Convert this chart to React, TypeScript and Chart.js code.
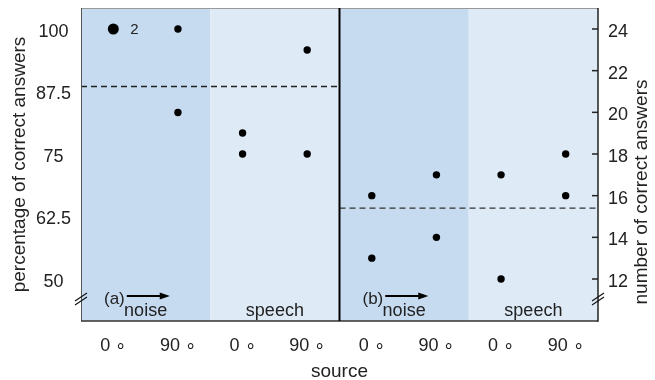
import React, { useEffect, useRef } from 'react';
import { Chart, registerables } from 'chart.js';

Chart.register(...registerables);

// ---- data ----
const sourceLabels = ['0 ∘', '90 ∘', '0 ∘', '90 ∘', '0 ∘', '90 ∘', '0 ∘', '90 ∘'];
const maskerLabels = ['noise', 'speech', 'noise', 'speech'];
const panelLabels = ['(a)', '(b)'];
// panel (a): percentage of correct answers, one list per source column
const panelAPercent = [[100], [100, 83.3], [79.2, 75], [95.8, 75]];
// coincident answers (count 2) in panel (a), noise 0°
const panelADoubleCol = [0];
const panelADoubleVal = [100];
const panelADoubleCount = ['2'];
// panel (b): number of correct answers, one list per source column
const panelBCount = [[16, 13], [17, 14], [17, 12], [18, 16]];
const meanA = 88.5;
const meanB = 15.4;
const percentTicks = [50, 62.5, 75, 87.5, 100];
const countTicks = [12, 14, 16, 18, 20, 22, 24];

const FONT = 'Liberation Sans, Arial, Helvetica, sans-serif';
const TEXT = '#222';
const NOISE_BG = '#c6dbef';
const SPEECH_BG = '#deebf7';

const Y_MIN = 41.6;
const Y_MAX = 104.2;
const COUNT_PER_PERCENT = 0.24;

const zeroPad = (s: any) => {
  s.paddingTop = 0;
  s.paddingBottom = 0;
  s.paddingLeft = 0;
  s.paddingRight = 0;
};

export default function App() {
  const ref = useRef<HTMLCanvasElement | null>(null);

  useEffect(() => {
    document.body.style.margin = '0';
    const canvas = ref.current;
    if (!canvas) return;

    const aPoints: { x: number; y: number }[] = [];
    panelAPercent.forEach((vals, i) => vals.forEach((v) => aPoints.push({ x: i + 0.5, y: v })));
    const aDouble = panelADoubleCol.map((c, i) => ({ x: c + 0.5, y: panelADoubleVal[i] }));
    const bPoints: { x: number; y: number }[] = [];
    panelBCount.forEach((vals, i) => vals.forEach((v) => bPoints.push({ x: 4 + i + 0.5, y: v })));

    const decor = {
      id: 'decor',
      beforeDatasetsDraw(chart: any) {
        const { ctx, chartArea } = chart;
        const x = chart.scales.x;
        ctx.save();
        for (let k = 0; k < 4; k++) {
          const l = x.getPixelForValue(k * 2);
          const r = x.getPixelForValue(k * 2 + 2);
          ctx.fillStyle = k % 2 === 0 ? NOISE_BG : SPEECH_BG;
          ctx.fillRect(l, chartArea.top, r - l, chartArea.bottom - chartArea.top);
        }
        ctx.restore();
      },
      afterDatasetsDraw(chart: any) {
        const { ctx, chartArea } = chart;
        const x = chart.scales.x;
        const y = chart.scales.y;
        const y2 = chart.scales.y2;
        const { left, right, top, bottom } = chartArea;
        ctx.save();

        // count label next to coincident points
        ctx.fillStyle = TEXT;
        ctx.font = `15px ${FONT}`;
        ctx.textAlign = 'left';
        ctx.textBaseline = 'middle';
        aDouble.forEach((p, i) => {
          ctx.fillText(panelADoubleCount[i], x.getPixelForValue(p.x) + 17, y.getPixelForValue(p.y) + 1);
        });

        // masker labels
        ctx.font = `18px ${FONT}`;
        ctx.textAlign = 'center';
        ctx.textBaseline = 'alphabetic';
        maskerLabels.forEach((lab, k) => {
          const c = x.getPixelForValue(k * 2 + 1);
          ctx.fillText(lab, c, bottom - 5);
        });

        // panel labels + arrows
        panelLabels.forEach((lab, k) => {
          const base = x.getPixelForValue(k * 4);
          ctx.font = `17px ${FONT}`;
          ctx.textAlign = 'left';
          ctx.fillStyle = TEXT;
          ctx.fillText(lab, base + 23, bottom - 17);
          const w = ctx.measureText(lab).width;
          const ax0 = base + 23 + w + 2;
          const ax1 = ax0 + 43;
          const ay = bottom - 25;
          ctx.strokeStyle = '#000';
          ctx.lineWidth = 2;
          ctx.beginPath();
          ctx.moveTo(ax0, ay);
          ctx.lineTo(ax1 - 8, ay);
          ctx.stroke();
          ctx.fillStyle = '#000';
          ctx.beginPath();
          ctx.moveTo(ax1, ay);
          ctx.lineTo(ax1 - 10, ay - 3.5);
          ctx.lineTo(ax1 - 10, ay + 3.5);
          ctx.closePath();
          ctx.fill();
        });

        // frame
        ctx.lineWidth = 1;
        ctx.strokeStyle = '#9a9a9a';
        ctx.beginPath();
        ctx.moveTo(left, top + 0.5);
        ctx.lineTo(right, top + 0.5);
        ctx.stroke();
        ctx.strokeStyle = '#555';
        ctx.beginPath();
        ctx.moveTo(left + 0.5, top);
        ctx.lineTo(left + 0.5, bottom);
        ctx.stroke();
        ctx.lineWidth = 1.5;
        ctx.strokeStyle = '#333';
        ctx.beginPath();
        ctx.moveTo(left, bottom);
        ctx.lineTo(right, bottom);
        ctx.stroke();
        ctx.strokeStyle = '#222';
        ctx.beginPath();
        ctx.moveTo(right, top);
        ctx.lineTo(right, bottom + 0.75);
        ctx.stroke();
        // panel divider
        ctx.lineWidth = 2;
        ctx.strokeStyle = '#000';
        const mid = x.getPixelForValue(4);
        ctx.beginPath();
        ctx.moveTo(mid, top);
        ctx.lineTo(mid, bottom);
        ctx.stroke();

        // inner ticks on right axis
        ctx.lineWidth = 1.5;
        ctx.strokeStyle = '#222';
        countTicks.forEach((v) => {
          const py = y2.getPixelForValue(v);
          ctx.beginPath();
          ctx.moveTo(right - 6, py);
          ctx.lineTo(right, py);
          ctx.stroke();
        });

        // axis break marks
        ctx.lineWidth = 1.2;
        ctx.strokeStyle = '#111';
        [left, right].forEach((ax) => {
          const by = bottom - 22;
          [-2, 2].forEach((d) => {
            ctx.beginPath();
            ctx.moveTo(ax - 6, by + 4 + d);
            ctx.lineTo(ax + 6, by - 4 + d);
            ctx.stroke();
          });
        });

        // axis titles
        ctx.fillStyle = TEXT;
        ctx.font = `19px ${FONT}`;
        ctx.textAlign = 'center';
        ctx.textBaseline = 'middle';
        ctx.save();
        ctx.translate(20, (top + bottom) / 2);
        ctx.rotate(-Math.PI / 2);
        ctx.fillText('percentage of correct answers', 0, 0);
        ctx.restore();
        ctx.save();
        ctx.translate(642, 192);
        ctx.rotate(-Math.PI / 2);
        ctx.fillText('number of correct answers', 0, 0);
        ctx.restore();
        ctx.textBaseline = 'alphabetic';
        ctx.fillText('source', (left + right) / 2, 377);

        ctx.restore();
      },
    };

    const chart = new Chart(canvas, {
      type: 'scatter',
      data: {
        datasets: [
          {
            type: 'line',
            data: [{ x: 0, y: meanA }, { x: 4, y: meanA }],
            borderColor: '#222',
            borderWidth: 1.3,
            borderDash: [6, 4],
            pointRadius: 0,
            yAxisID: 'y',
          } as any,
          {
            type: 'line',
            data: [{ x: 4, y: meanB }, { x: 8, y: meanB }],
            borderColor: '#333',
            borderWidth: 1.3,
            borderDash: [6, 4],
            pointRadius: 0,
            yAxisID: 'y2',
          } as any,
          {
            data: aPoints,
            backgroundColor: '#000',
            borderColor: '#000',
            pointRadius: 3.7,
            borderWidth: 0,
            yAxisID: 'y',
          },
          {
            data: aDouble,
            backgroundColor: '#000',
            borderColor: '#000',
            pointRadius: 5.5,
            borderWidth: 0,
            yAxisID: 'y',
          },
          {
            data: bPoints,
            backgroundColor: '#000',
            borderColor: '#000',
            pointRadius: 3.7,
            borderWidth: 0,
            yAxisID: 'y2',
          },
        ],
      },
      options: {
        animation: false,
        responsive: false,
        events: [],
        layout: { padding: { top: 8, left: 0, right: 0, bottom: 0 } },
        plugins: { legend: { display: false }, tooltip: { enabled: false } },
        scales: {
          x: {
            type: 'linear',
            min: 0,
            max: 8,
            grid: { display: false, drawTicks: false },
            border: { display: false },
            afterBuildTicks: (s: any) => {
              s.ticks = sourceLabels.map((_, i) => ({ value: i + 0.5 }));
            },
            afterFit: (s: any) => {
              s.height = 59;
              zeroPad(s);
            },
            ticks: {
              autoSkip: false,
              maxRotation: 0,
              padding: 14,
              color: TEXT,
              font: { family: FONT, size: 18 },
              callback: (_v: any, i: number) => sourceLabels[i],
            },
          },
          y: {
            type: 'linear',
            position: 'left',
            min: Y_MIN,
            max: Y_MAX,
            grid: { display: false, drawTicks: false },
            border: { display: false },
            afterBuildTicks: (s: any) => {
              s.ticks = percentTicks.map((v) => ({ value: v }));
            },
            afterFit: (s: any) => {
              s.width = 81;
              zeroPad(s);
            },
            ticks: {
              crossAlign: 'center',
              padding: 10,
              labelOffset: 3,
              color: TEXT,
              font: { family: FONT, size: 18 },
              callback: (v: any) => String(v),
            },
          },
          y2: {
            type: 'linear',
            position: 'right',
            min: Y_MIN * COUNT_PER_PERCENT,
            max: Y_MAX * COUNT_PER_PERCENT,
            grid: { display: false, drawTicks: false },
            border: { display: false },
            afterBuildTicks: (s: any) => {
              s.ticks = countTicks.map((v) => ({ value: v }));
            },
            afterFit: (s: any) => {
              s.width = 57;
              zeroPad(s);
            },
            ticks: {
              padding: 10,
              labelOffset: 3,
              color: TEXT,
              font: { family: FONT, size: 18 },
              callback: (v: any) => String(v),
            },
          },
        },
      },
      plugins: [decor],
    });

    return () => chart.destroy();
  }, []);

  return (
    <div style={{ width: 655, height: 380 }}>
      <canvas ref={ref} width={655} height={380} style={{ display: 'block', width: 655, height: 380 }} />
    </div>
  );
}
